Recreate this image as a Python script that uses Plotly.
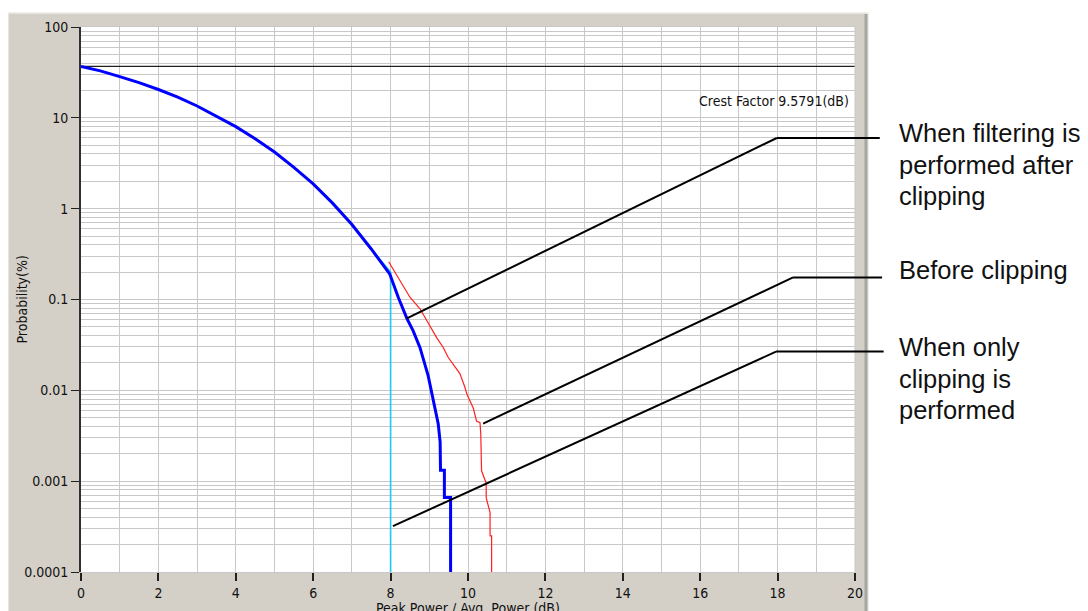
import plotly.graph_objects as go

# ---------------- data ----------------
X_RANGE = [0, 20]
Y_RANGE_LOG = [-4, 2]

# shared upper part of all CCDF curves (dB, %)
common_x = [0, 0.5, 1, 1.5, 2, 2.5, 3, 3.5, 4, 4.5, 5, 5.5, 6, 6.5, 7, 7.5, 8.0]
common_y = [36.8, 32.9, 28.4, 24.4, 20.5, 16.9, 13.5, 10.5, 8.0, 5.9, 4.2, 2.85,
            1.87, 1.15, 0.67, 0.36, 0.2]

# when only clipping is performed (cyan)
clip_x = common_x + [8.0]
clip_y = common_y + [0.0001]

# when filtering is performed after clipping (blue)
filt_tail_x = [8.2, 8.42, 8.58, 8.76, 8.97, 9.1, 9.23, 9.28, 9.29, 9.39, 9.39, 9.55, 9.55]
filt_tail_y = [0.105, 0.062, 0.0455, 0.0295, 0.0145, 0.0077, 0.0043, 0.0027, 0.00132,
               0.00132, 0.00066, 0.00066, 0.0001]
filt_x = common_x[:-1] + [7.98] + filt_tail_x
filt_y = common_y[:-1] + [0.19] + filt_tail_y

# before clipping (red)
before_x = [7.95, 8.24, 8.5, 8.76, 8.93, 9.19, 9.36, 9.49, 9.67, 9.79, 9.92, 9.97,
            10.14, 10.18, 10.22, 10.31, 10.33, 10.35, 10.47, 10.47, 10.57, 10.57,
            10.61, 10.61]
before_y = [0.26, 0.162, 0.106, 0.079, 0.059, 0.038, 0.0296, 0.023, 0.018, 0.0153,
            0.0108, 0.0091, 0.0063, 0.0055, 0.0046, 0.0044, 0.0033, 0.0013, 0.00095,
            0.00066, 0.00045, 0.00025, 0.00025, 0.0001]

crest_level = 36.8
crest_text = "Crest Factor 9.5791(dB)"

y_tick_vals = [0.0001, 0.001, 0.01, 0.1, 1, 10, 100]
y_tick_text = ["0.0001", "0.001", "0.01", "0.1", "1", "10", "100"]
x_tick_vals = [0, 2, 4, 6, 8, 10, 12, 14, 16, 18, 20]

x_title = "Peak Power / Avg. Power (dB)"
y_title = "Probability(%)"

# leader lines: target point on a curve -> elbow -> horizontal to the label
leader_target_x = [8.42, 10.39, 8.06]
leader_target_y = [0.062, 0.0043, 0.00032]
leader_elbow_x = [17.98, 18.4, 17.96]
leader_elbow_y = [6.0, 0.175, 0.0267]
leader_end_paper_x = [1.032, 1.035, 1.037]

label_lines = [
    ["When filtering is", "performed after", "clipping"],
    ["Before clipping"],
    ["When only", "clipping is", "performed"],
]
label_first_line_px = [133, 270, 347]
label_line_gap_px = 31.5

# ---------------- figure ----------------
# the page body adds an 8 px offset; all pixel positions below are page pixels
OFF = 8
W, H = 1088 - OFF, 611 - OFF
PLOT_LEFT, PLOT_RIGHT, PLOT_TOP, PLOT_BOTTOM = 81, 855, 27, 572
L = PLOT_LEFT - OFF
R = W - (PLOT_RIGHT - OFF)
T = PLOT_TOP - OFF
B = H - (PLOT_BOTTOM - OFF)
plot_w = PLOT_RIGHT - PLOT_LEFT
plot_h = PLOT_BOTTOM - PLOT_TOP

TICK_FONT = dict(family="Liberation Sans Narrow, DejaVu Sans Condensed, Liberation Sans",
                 size=14, color="#111111")
LABEL_FONT = dict(family="Liberation Sans, Arial", size=25.5, color="#111111")
GRID = "#C8C8C8"
PANEL = "#D4D0C8"


def px_to_paper_x(px):
    return (px - PLOT_LEFT) / plot_w


def px_to_paper_y(py):
    return (PLOT_BOTTOM - py) / plot_h


fig = go.Figure()

fig.add_trace(go.Scatter(x=list(X_RANGE), y=[crest_level, crest_level], mode="lines",
                         line=dict(color="#202020", width=1.2), hoverinfo="skip"))
fig.add_trace(go.Scatter(x=clip_x, y=clip_y, mode="lines",
                         line=dict(color="#1EC8F0", width=1.6), hoverinfo="skip"))
fig.add_trace(go.Scatter(x=before_x, y=before_y, mode="lines",
                         line=dict(color="#FF2020", width=1.2), hoverinfo="skip"))
fig.add_trace(go.Scatter(x=filt_x, y=filt_y, mode="lines",
                         line=dict(color="#0000FF", width=3), hoverinfo="skip"))

shapes = [
    # gray window panel
    dict(type="rect", xref="paper", yref="paper",
         x0=px_to_paper_x(8), x1=px_to_paper_x(868), y0=px_to_paper_y(640), y1=px_to_paper_y(13),
         fillcolor=PANEL, line=dict(color="#ECEAE6", width=1.5), layer="below"),
    dict(type="line", xref="paper", yref="paper",
         x0=px_to_paper_x(866), x1=px_to_paper_x(866), y0=px_to_paper_y(640), y1=px_to_paper_y(14),
         line=dict(color="#A8A6A0", width=3), layer="below"),
    # white plotting area
    dict(type="rect", xref="paper", yref="paper", x0=0, x1=1, y0=0, y1=1,
         fillcolor="white", line=dict(width=0), layer="below"),
    # right border of plot (light)
    dict(type="line", xref="paper", yref="paper", x0=1, x1=1, y0=0, y1=1,
         line=dict(color=GRID, width=1), layer="above"),
]

x_span = X_RANGE[1] - X_RANGE[0]
for tx, ty, ex, ey, endx in zip(leader_target_x, leader_target_y, leader_elbow_x,
                                 leader_elbow_y, leader_end_paper_x):
    shapes.append(dict(type="line", xref="paper", yref="y",
                       x0=(tx - X_RANGE[0]) / x_span, y0=ty,
                       x1=(ex - X_RANGE[0]) / x_span, y1=ey,
                       line=dict(color="black", width=2)))
    shapes.append(dict(type="line", xref="paper", yref="y",
                       x0=(ex - X_RANGE[0]) / x_span, y0=ey,
                       x1=endx, y1=ey,
                       line=dict(color="black", width=2)))

annotations = [
    dict(text=crest_text, xref="paper", yref="paper", x=px_to_paper_x(851),
         y=px_to_paper_y(101), xanchor="right", yanchor="middle", showarrow=False,
         font=TICK_FONT),
    dict(text=x_title, xref="paper", yref="paper", x=0.5, y=px_to_paper_y(608),
         xanchor="center", yanchor="middle", showarrow=False, font=TICK_FONT),
    dict(text=y_title, xref="paper", yref="paper", x=px_to_paper_x(21), y=0.5,
         xanchor="center", yanchor="middle", textangle=-90, showarrow=False,
         font=TICK_FONT),
]
for lines, first_px in zip(label_lines, label_first_line_px):
    for i, txt in enumerate(lines):
        annotations.append(dict(text=txt, xref="paper", yref="paper",
                                x=px_to_paper_x(897),
                                y=px_to_paper_y(first_px + i * label_line_gap_px),
                                xanchor="left", yanchor="middle", showarrow=False,
                                font=LABEL_FONT))

minor_y = [m * 10 ** e for e in range(-4, 2) for m in range(2, 10)]

fig.update_layout(
    width=W, height=H,
    margin=dict(l=L, r=R, t=T, b=B, pad=0, autoexpand=False),
    paper_bgcolor="white", plot_bgcolor="white",
    showlegend=False,
    shapes=shapes,
    annotations=annotations,
    xaxis=dict(range=X_RANGE, tickvals=x_tick_vals, ticks="outside", ticklen=8,
               tickwidth=2, tickcolor="#202020", showgrid=True, gridcolor=GRID,
               gridwidth=1, zeroline=False, showline=True, linecolor=GRID, linewidth=1,
               mirror=True, tickfont=TICK_FONT, automargin=False,
               minor=dict(dtick=1, showgrid=True, gridcolor=GRID, gridwidth=1, ticks="")),
    yaxis=dict(type="log", range=Y_RANGE_LOG, tickvals=y_tick_vals, ticktext=y_tick_text,
               ticks="outside", ticklen=8, tickwidth=1, tickcolor="#202020",
               showgrid=True, gridcolor=GRID, gridwidth=1, zeroline=False,
               showline=True, linecolor="#303030", linewidth=2, tickfont=TICK_FONT,
               automargin=False,
               minor=dict(tickvals=minor_y, showgrid=True, gridcolor=GRID, gridwidth=1,
                          ticks="")),
)

fig.write_html("out.html")
